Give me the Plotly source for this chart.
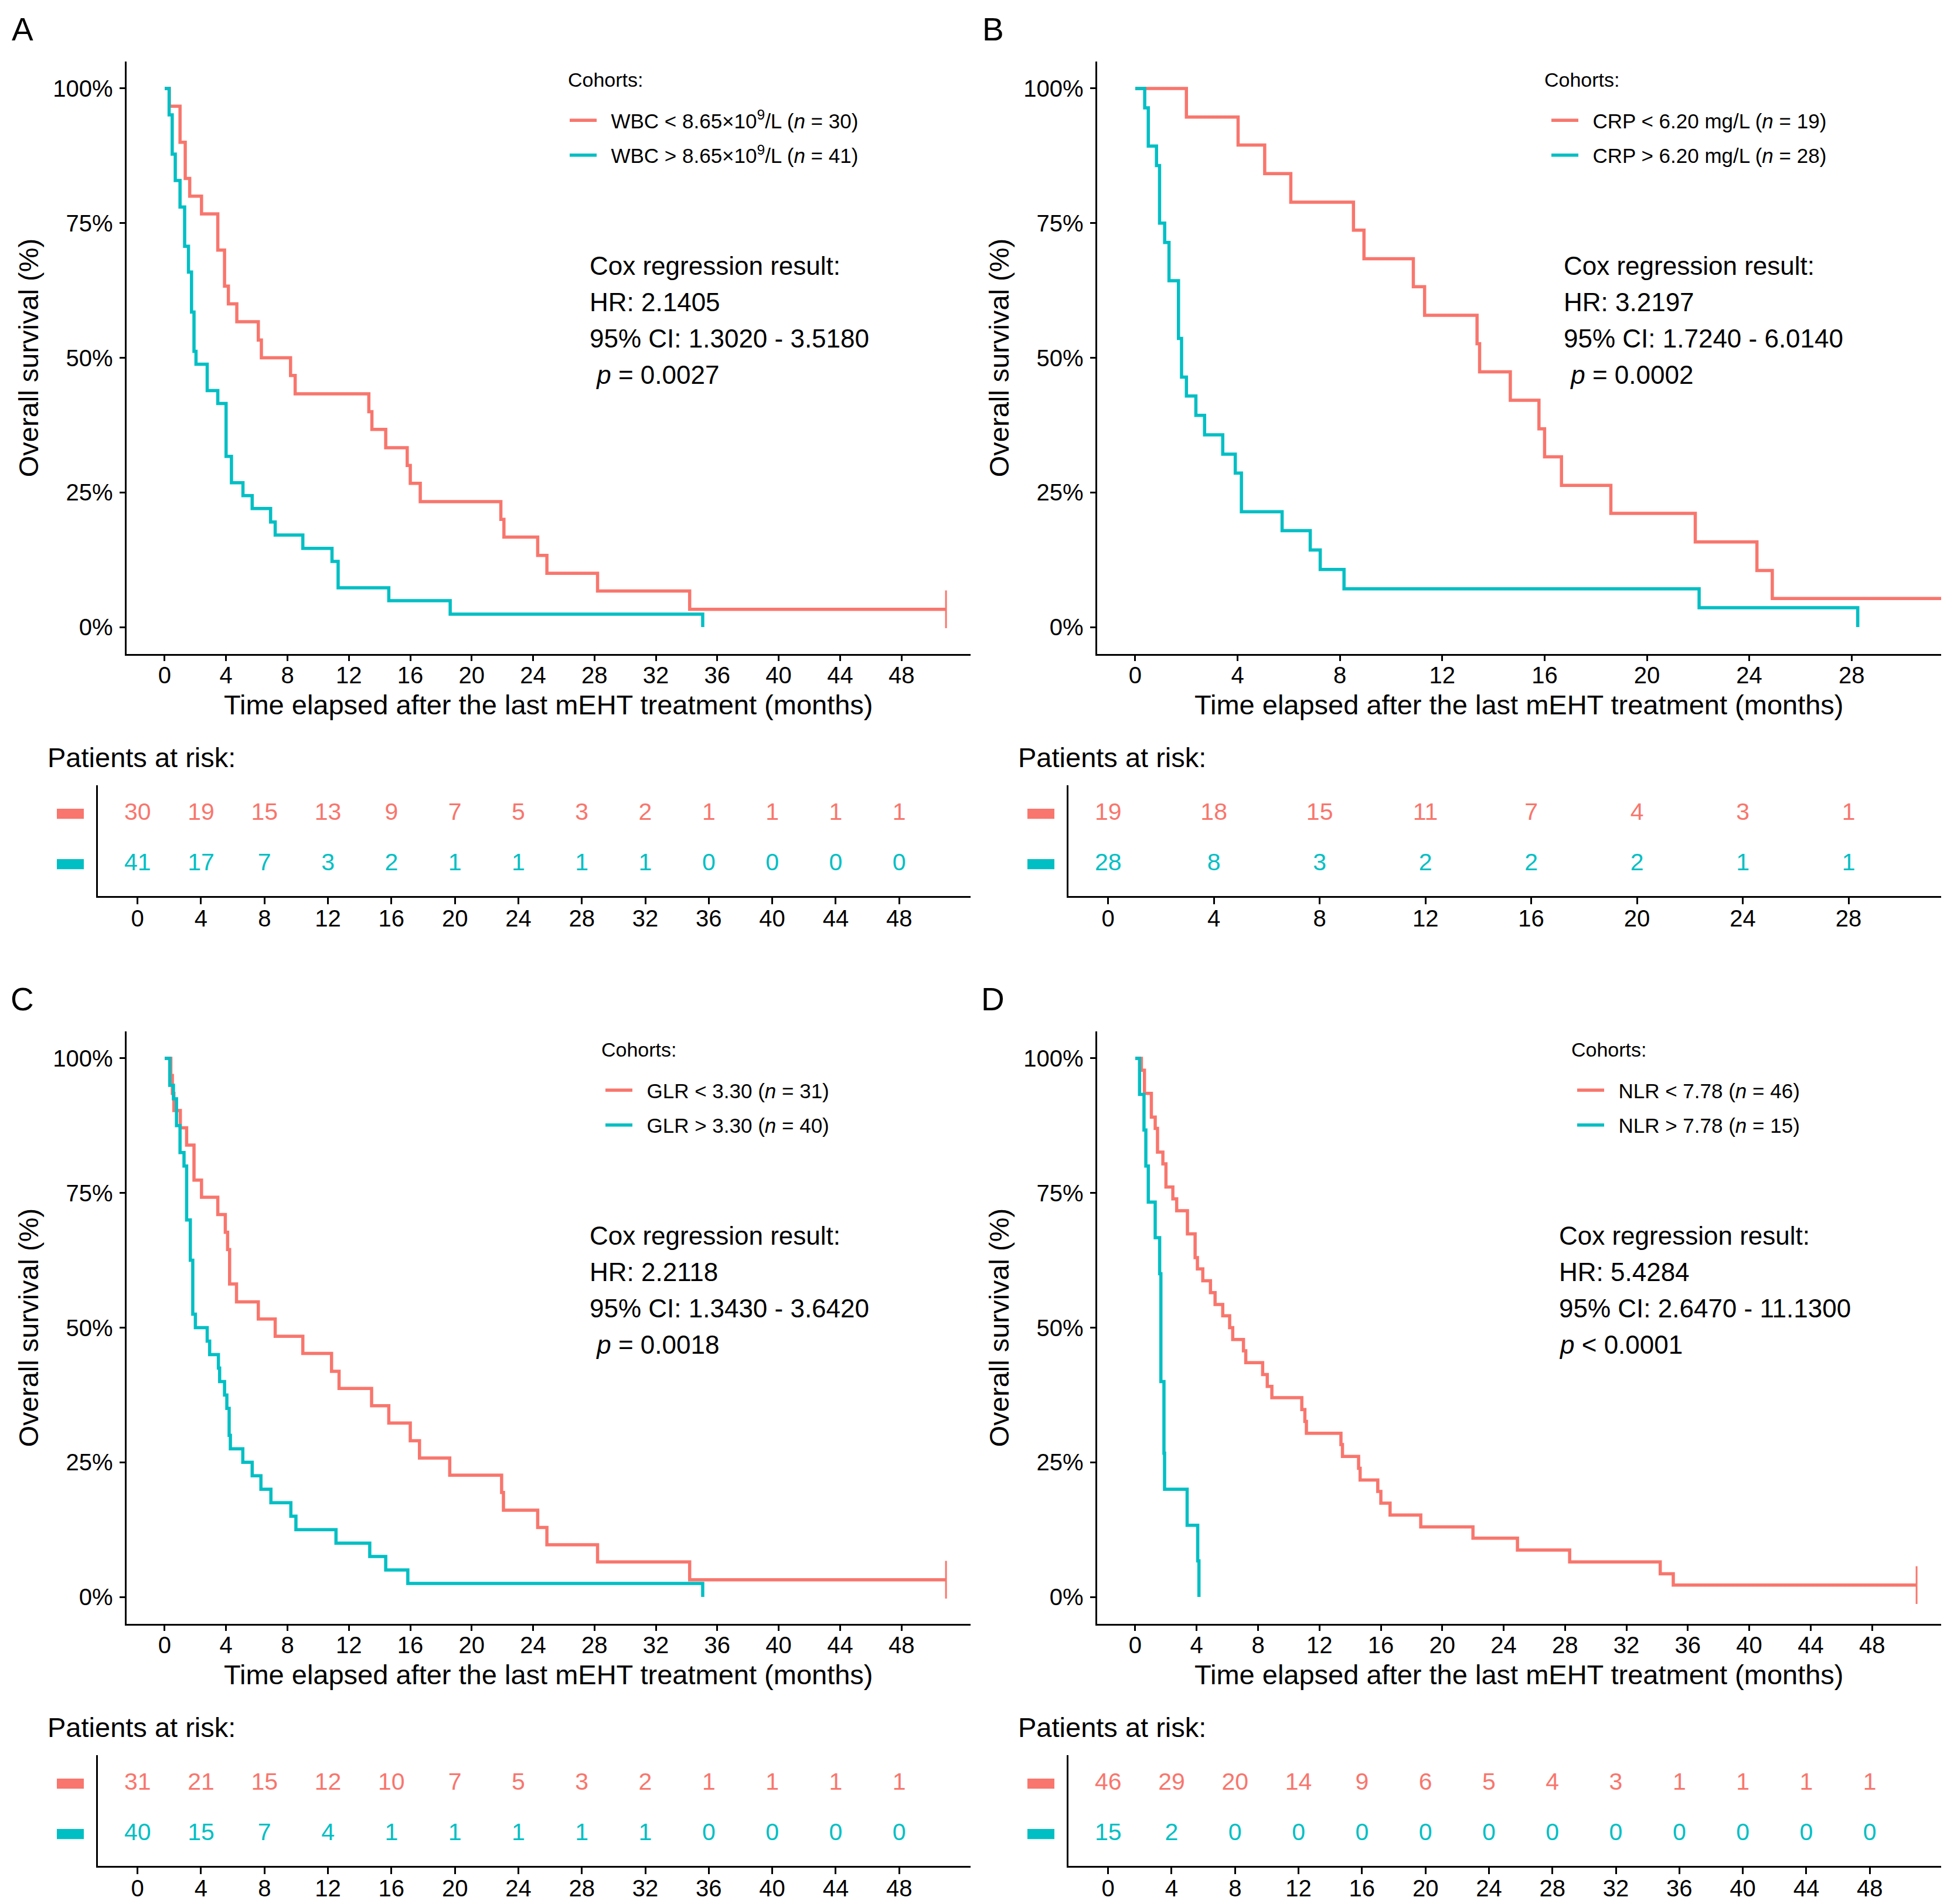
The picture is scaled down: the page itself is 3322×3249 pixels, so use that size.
import plotly.graph_objects as go

W, H = 3322, 3249
RED = "#F8766D"
CYAN = "#00BFC4"
FONT = "Liberation Sans, Arial, sans-serif"

# ---------------- data ----------------
x_title = "Time elapsed after the last mEHT treatment (months)"
y_title = "Overall survival (%)"
y_tickvals = [0, 0.25, 0.5, 0.75, 1.0]
y_ticklabels = ["0%", "25%", "50%", "75%", "100%"]
ticks_long = [0, 4, 8, 12, 16, 20, 24, 28, 32, 36, 40, 44, 48]
ticks_short = [0, 4, 8, 12, 16, 20, 24, 28]

# Panel A (WBC)
A_labels = ["WBC &lt; 8.65×10<sup>9</sup>/L (<i>n</i> = 30)", "WBC &gt; 8.65×10<sup>9</sup>/L (<i>n</i> = 41)"]
A_red_t = [0, 0.3, 1.0, 1.34, 1.63, 2.4, 3.46, 3.9, 4.15, 4.7, 6.1, 6.3, 8.2, 8.5, 13.3, 13.5, 14.4, 15.8, 16.0, 16.65, 21.9, 22.1, 24.3, 24.9, 28.2, 34.2, 50.9]
A_red_s = [1, 0.967, 0.900, 0.833, 0.800, 0.767, 0.700, 0.633, 0.600, 0.567, 0.533, 0.500, 0.467, 0.433, 0.400, 0.367, 0.333, 0.300, 0.267, 0.233, 0.200, 0.167, 0.133, 0.100, 0.067, 0.033, 0.033]
A_cyan_t = [0, 0.29, 0.49, 0.69, 1.0, 1.3, 1.55, 1.75, 1.91, 2.04, 2.77, 3.46, 4.0, 4.35, 5.1, 5.7, 6.9, 7.2, 9.0, 10.9, 11.3, 14.6, 18.6, 35.05]
A_cyan_s = [1, 0.951, 0.878, 0.829, 0.780, 0.707, 0.659, 0.585, 0.512, 0.488, 0.439, 0.415, 0.317, 0.268, 0.244, 0.220, 0.195, 0.171, 0.146, 0.122, 0.073, 0.049, 0.024, 0.0]
A_risk_red = [30, 19, 15, 13, 9, 7, 5, 3, 2, 1, 1, 1, 1]
A_risk_cyan = [41, 17, 7, 3, 2, 1, 1, 1, 1, 0, 0, 0, 0]
A_cox = ["Cox regression result:", "HR: 2.1405", "95% CI: 1.3020 - 3.5180", "\u00a0<i>p</i> = 0.0027"]

# Panel B (CRP)
B_labels = ["CRP &lt; 6.20 mg/L (<i>n</i> = 19)", "CRP &gt; 6.20 mg/L (<i>n</i> = 28)"]
B_red_t = [0, 2.0, 4.02, 5.06, 6.08, 8.53, 8.94, 10.87, 11.31, 13.36, 13.46, 14.66, 15.78, 16.0, 16.66, 18.59, 21.89, 24.3, 24.9, 32.0]
B_red_s = [1, 0.947, 0.895, 0.842, 0.789, 0.737, 0.684, 0.632, 0.579, 0.526, 0.474, 0.421, 0.368, 0.316, 0.263, 0.211, 0.158, 0.105, 0.053, 0.053]
B_cyan_t = [0, 0.37, 0.51, 0.83, 0.95, 1.15, 1.32, 1.69, 1.81, 2.0, 2.37, 2.71, 3.42, 3.91, 4.15, 5.74, 6.84, 7.23, 8.16, 22.04, 28.24]
B_cyan_s = [1, 0.964, 0.893, 0.857, 0.750, 0.714, 0.643, 0.536, 0.464, 0.429, 0.393, 0.357, 0.321, 0.286, 0.214, 0.179, 0.143, 0.107, 0.071, 0.036, 0.0]
B_risk_red = [19, 18, 15, 11, 7, 4, 3, 1]
B_risk_cyan = [28, 8, 3, 2, 2, 2, 1, 1]
B_cox = ["Cox regression result:", "HR: 3.2197", "95% CI: 1.7240 - 6.0140", "\u00a0<i>p</i> = 0.0002"]

# Panel C (GLR)
C_labels = ["GLR &lt; 3.30 (<i>n</i> = 31)", "GLR &gt; 3.30 (<i>n</i> = 40)"]
C_red_t = [0, 0.4, 0.5, 0.6, 1.02, 1.43, 1.91, 2.4, 3.46, 3.95, 4.1, 4.23, 4.68, 6.1, 7.2, 9.0, 10.87, 11.36, 13.48, 14.6, 16.0, 16.6, 18.57, 21.95, 22.07, 24.3, 24.9, 28.2, 34.2, 50.9]
C_red_s = [1, 0.968, 0.935, 0.903, 0.871, 0.839, 0.774, 0.742, 0.710, 0.677, 0.645, 0.581, 0.548, 0.516, 0.484, 0.452, 0.419, 0.387, 0.355, 0.323, 0.290, 0.258, 0.226, 0.194, 0.161, 0.129, 0.097, 0.065, 0.032, 0.032]
C_cyan_t = [0, 0.33, 0.57, 0.77, 1.0, 1.26, 1.43, 1.67, 1.83, 2.0, 2.77, 2.93, 3.5, 3.58, 3.9, 4.05, 4.2, 4.28, 5.09, 5.7, 6.27, 6.92, 8.22, 8.55, 11.16, 13.36, 14.4, 15.84, 35.05]
C_cyan_s = [1, 0.95, 0.925, 0.875, 0.825, 0.80, 0.70, 0.625, 0.525, 0.50, 0.475, 0.45, 0.425, 0.40, 0.375, 0.35, 0.30, 0.275, 0.25, 0.225, 0.20, 0.175, 0.15, 0.125, 0.10, 0.075, 0.05, 0.025, 0.0]
C_risk_red = [31, 21, 15, 12, 10, 7, 5, 3, 2, 1, 1, 1, 1]
C_risk_cyan = [40, 15, 7, 4, 1, 1, 1, 1, 1, 0, 0, 0, 0]
C_cox = ["Cox regression result:", "HR: 2.2118", "95% CI: 1.3430 - 3.6420", "\u00a0<i>p</i> = 0.0018"]

# Panel D (NLR)
D_labels = ["NLR &lt; 7.78 (<i>n</i> = 46)", "NLR &gt; 7.78 (<i>n</i> = 15)"]
D_red_t = [0, 0.4, 0.6, 1.05, 1.3, 1.45, 1.8, 2.0, 2.45, 2.7, 3.4, 3.9, 4.05, 4.4, 4.9, 5.2, 5.7, 6.15, 6.35, 7.05, 7.2, 8.3, 8.6, 8.9, 10.85, 11.05, 11.15, 13.4, 13.5, 14.55, 14.65, 15.8, 16.0, 16.6, 18.6, 22.0, 24.9, 28.3, 34.2, 35.05, 50.9]
D_red_s = [1, 0.978, 0.935, 0.891, 0.870, 0.826, 0.804, 0.761, 0.739, 0.717, 0.674, 0.630, 0.609, 0.587, 0.565, 0.543, 0.522, 0.500, 0.478, 0.457, 0.435, 0.413, 0.391, 0.370, 0.348, 0.326, 0.304, 0.283, 0.261, 0.239, 0.217, 0.196, 0.174, 0.152, 0.130, 0.109, 0.087, 0.065, 0.043, 0.022, 0.022]
D_cyan_t = [0, 0.28, 0.57, 0.69, 0.85, 1.3, 1.59, 1.67, 1.87, 1.91, 3.38, 4.07, 4.15]
D_cyan_s = [1, 0.933, 0.867, 0.800, 0.733, 0.667, 0.600, 0.400, 0.267, 0.200, 0.133, 0.067, 0.0]
D_risk_red = [46, 29, 20, 14, 9, 6, 5, 4, 3, 1, 1, 1, 1]
D_risk_cyan = [15, 2, 0, 0, 0, 0, 0, 0, 0, 0, 0, 0, 0]
D_cox = ["Cox regression result:", "HR: 5.4284", "95% CI: 2.6470 - 11.1300", "<i>p</i> &lt; 0.0001"]

panels = [
    dict(letter="A", row=0, col=0, xr=[-2.5, 52.5], ticks=ticks_long, labels=A_labels,
         red=(A_red_t, A_red_s, True), cyan=(A_cyan_t, A_cyan_s, False),
         risk=(A_risk_red, A_risk_cyan), cox=A_cox, cohort_x=959, leg_x=959, cox_x=996),
    dict(letter="B", row=0, col=1, xr=[-1.5, 31.5], ticks=ticks_short, labels=B_labels,
         red=(B_red_t, B_red_s, False), cyan=(B_cyan_t, B_cyan_s, False),
         risk=(B_risk_red, B_risk_cyan), cox=B_cox, cohort_x=2625, leg_x=2634, cox_x=2658),
    dict(letter="C", row=1, col=0, xr=[-2.5, 52.5], ticks=ticks_long, labels=C_labels,
         red=(C_red_t, C_red_s, True), cyan=(C_cyan_t, C_cyan_s, False),
         risk=(C_risk_red, C_risk_cyan), cox=C_cox, cohort_x=1016, leg_x=1020, cox_x=996),
    dict(letter="D", row=1, col=1, xr=[-2.5, 52.5], ticks=ticks_long, labels=D_labels,
         red=(D_red_t, D_red_s, True), cyan=(D_cyan_t, D_cyan_s, False),
         risk=(D_risk_red, D_risk_cyan), cox=D_cox, cohort_x=2671, leg_x=2678, cox_x=2650),
]

# ---------------- layout geometry (pixels) ----------------
DX, DY = 1656, 1655
PLOT_X = (207.5, 1648)
PLOT_Y = (97, 1108)
TAB_X = (159, 1648)
TAB_Y = (1331.7, 1520.7)
KEY_X = (89, 135)      # coloured strips of the risk table (pixels, left column)
LEG_PAD = "\u00a0\u00a0"  # gap between legend swatch and label


def px(v):
    return v / W


def py(v):
    return 1 - v / H


fig = go.Figure()
layout = dict(
    width=W, height=H, margin=dict(l=0, r=0, t=0, b=0),
    paper_bgcolor="white", plot_bgcolor="white",
    font=dict(family=FONT, color="black"),
    showlegend=True,
)
annotations = []
shapes = []

axis_common = dict(showgrid=False, zeroline=False, showline=True, linewidth=3, linecolor="black",
                   ticks="outside", tickwidth=3, tickcolor="black",
                   tickfont=dict(size=40, family=FONT, color="black"))

for i, p in enumerate(panels):
    ox, oy = DX * p["col"], DY * p["row"]
    ka = 2 * i + 1  # plot axes index
    kb = 2 * i + 2  # table axes index
    xa = "x" if ka == 1 else f"x{ka}"
    ya = "y" if ka == 1 else f"y{ka}"
    xb, yb = f"x{kb}", f"y{kb}"
    leg = "legend" if i == 0 else f"legend{i + 1}"

    # main KM plot axes
    layout["xaxis" if ka == 1 else f"xaxis{ka}"] = dict(
        axis_common, domain=[px(PLOT_X[0] + ox), px(PLOT_X[1] + ox)], range=p["xr"],
        tickvals=p["ticks"], ticklen=9, anchor=ya, ticklabelstandoff=-10,
        title=dict(text=x_title, font=dict(size=47, family=FONT, color="black"), standoff=14))
    layout["yaxis" if ka == 1 else f"yaxis{ka}"] = dict(
        axis_common, domain=[py(PLOT_Y[1] + oy), py(PLOT_Y[0] + oy)], range=[-0.05, 1.05],
        tickvals=y_tickvals, ticktext=y_ticklabels, ticklen=9, anchor=xa, ticklabelstandoff=3,
        title=dict(text=y_title, font=dict(size=47, family=FONT, color="black"), standoff=10))

    # risk table axes
    layout[f"xaxis{kb}"] = dict(
        axis_common, domain=[px(TAB_X[0] + ox), px(TAB_X[1] + ox)], range=p["xr"],
        tickvals=p["ticks"], ticklen=11, anchor=yb, ticklabelstandoff=-10)
    layout[f"yaxis{kb}"] = dict(
        showgrid=False, zeroline=False, showline=True, linewidth=3, linecolor="black",
        domain=[py(TAB_Y[1] + oy), py(TAB_Y[0] + oy)], range=[-0.63, 1.57],
        showticklabels=False, ticks="", anchor=xb)

    # curves
    for (t, s, cens), col, lab in [(p["red"], RED, p["labels"][0]), (p["cyan"], CYAN, p["labels"][1])]:
        fig.add_trace(go.Scatter(
            x=t, y=s, mode="lines", line=dict(color=col, width=5.5, shape="hv"),
            name=LEG_PAD + lab, legend=leg, legendgroup=f"{p['letter']}_{col}", xaxis=xa, yaxis=ya,
            hoverinfo="skip"))
        if cens:
            fig.add_trace(go.Scatter(
                x=[t[-1]], y=[s[-1]], mode="markers",
                marker=dict(symbol="line-ns", size=46, line=dict(color=col, width=3)),
                showlegend=False, xaxis=xa, yaxis=ya, hoverinfo="skip", cliponaxis=False))

    # risk table numbers
    for vals, col, yrow in [(p["risk"][0], RED, 1), (p["risk"][1], CYAN, 0)]:
        fig.add_trace(go.Scatter(
            x=p["ticks"][:len(vals)], y=[yrow] * len(vals), mode="text",
            text=[str(v) for v in vals], textposition="middle center",
            textfont=dict(size=41, color=col, family=FONT),
            showlegend=False, xaxis=xb, yaxis=yb, hoverinfo="skip", cliponaxis=False))

    # risk table strata keys (coloured strips left of the table axis)
    tw = TAB_X[1] - TAB_X[0]
    for col, yrow in [(RED, 1), (CYAN, 0)]:
        shapes.append(dict(type="rect", xref=f"{xb} domain", yref=yb,
                           x0=(KEY_X[0] - TAB_X[0]) / tw, x1=(KEY_X[1] - TAB_X[0]) / tw,
                           y0=yrow - 0.1, y1=yrow + 0.1, fillcolor=col, line=dict(width=0)))

    # legend
    layout[leg] = dict(
        x=px(p["leg_x"]), y=py(168 + oy), xanchor="left", yanchor="top",
        font=dict(size=35, family=FONT, color="black"), bgcolor="rgba(0,0,0,0)",
        itemwidth=46, tracegroupgap=11, traceorder="grouped")

    # annotations
    annotations.append(dict(text=p["letter"], x=px(30 + ox), y=py(42 + oy), xref="paper", yref="paper",
                            xanchor="center", yanchor="middle", showarrow=False,
                            font=dict(size=55, family=FONT, color="black")))
    annotations.append(dict(text="Cohorts:", x=px(p["cohort_x"]), y=py(128 + oy), xref="paper", yref="paper",
                            xanchor="left", yanchor="middle", showarrow=False,
                            font=dict(size=34, family=FONT, color="black")))
    for j, line in enumerate(p["cox"]):
        annotations.append(dict(text=line, x=px(p["cox_x"]), y=py(445 + 62 * j + oy), xref="paper", yref="paper",
                                xanchor="left", yanchor="middle", showarrow=False,
                                font=dict(size=44, family=FONT, color="black")))
    annotations.append(dict(text="Patients at risk:", x=px(71 + ox), y=py(1284 + oy), xref="paper", yref="paper",
                            xanchor="left", yanchor="middle", showarrow=False,
                            font=dict(size=47, family=FONT, color="black")))

layout["annotations"] = annotations
layout["shapes"] = shapes
fig.update_layout(**layout)
fig.write_html("out.html")
